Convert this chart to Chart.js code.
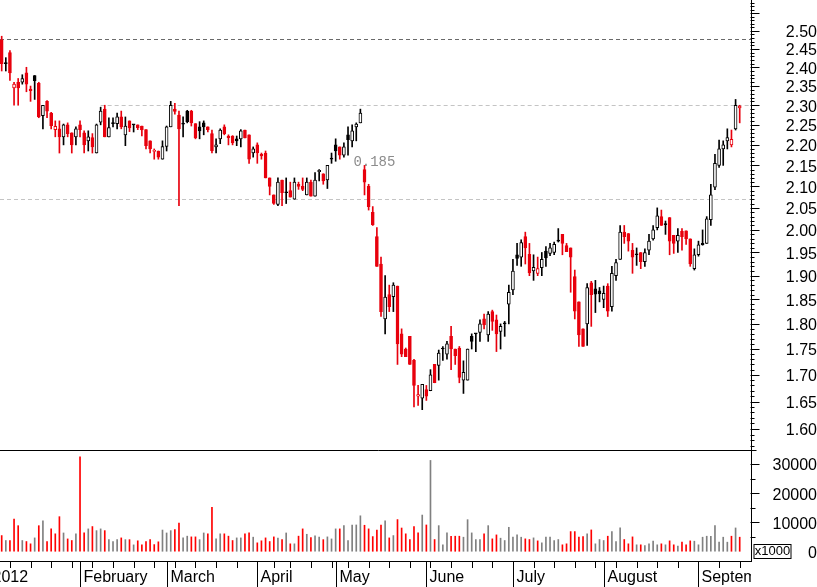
<!DOCTYPE html>
<html>
<head>
<meta charset="utf-8">
<script src="https://cdn.jsdelivr.net/npm/chart.js@4.4.0/dist/chart.umd.min.js"></script>
<style>
  html, body { margin: 0; padding: 0; background: #fff; }
  canvas { display: block; }
</style>
</head>
<body>
<canvas id="chart" width="817" height="587"></canvas>
<script>
// daily candles, 5 Jan 2012 .. 17 Sep 2012 (one entry per trading day)
const open = [
  2.475, 2.41, 2.44, 2.345, 2.36, 2.36, 2.385, 2.342, 2.378, 2.357,
  2.273, 2.31, 2.28, 2.238, 2.24, 2.22, 2.25, 2.23, 2.22, 2.25,
  2.23, 2.21, 2.218, 2.18, 2.257, 2.29, 2.22, 2.253, 2.253, 2.27,
  2.225, 2.26, 2.25, 2.25, 2.247, 2.238, 2.21, 2.184, 2.185, 2.165,
  2.196, 2.245, 2.29, 2.275, 2.252, 2.285, 2.285, 2.253, 2.245, 2.255,
  2.245, 2.228, 2.195, 2.215, 2.245, 2.222, 2.222, 2.215, 2.215, 2.237,
  2.225, 2.18, 2.20, 2.177, 2.18, 2.12, 2.08, 2.058, 2.115, 2.085,
  2.09, 2.07, 2.105, 2.10, 2.08, 2.11, 2.077, 2.135, 2.13, 2.115,
  2.165, 2.20, 2.195, 2.175, 2.225, 2.21, 2.245, 2.255, 2.14, 2.10,
  2.04, 1.985, 1.925, 1.81, 1.86, 1.856, 1.878, 1.78, 1.75, 1.775,
  1.728, 1.66, 1.656, 1.672, 1.67, 1.72, 1.718, 1.75, 1.74, 1.775,
  1.75, 1.752, 1.69, 1.69, 1.775, 1.78, 1.783, 1.81, 1.778, 1.825,
  1.808, 1.785, 1.80, 1.84, 1.87, 1.945, 1.94, 1.985, 1.946, 1.91,
  1.905, 1.917, 1.953, 1.948, 1.95, 1.975, 1.99, 1.965, 1.96, 1.898,
  1.845, 1.79, 1.80, 1.885, 1.872, 1.868, 1.85, 1.878, 1.835, 1.90,
  1.935, 1.995, 1.992, 1.955, 1.945, 1.95, 1.93, 1.955, 1.98, 2.005,
  2.03, 2.012, 2.028, 1.988, 1.975, 1.997, 1.998, 1.98, 1.915, 1.945,
  1.97, 1.97, 2.023, 2.098, 2.15, 2.19, 2.21, 2.20, 2.24, 2.293
];
const high = [
  2.485, 2.426, 2.445, 2.36, 2.37, 2.38, 2.40, 2.35, 2.378, 2.36,
  2.30, 2.312, 2.282, 2.26, 2.26, 2.252, 2.255, 2.23, 2.245, 2.26,
  2.235, 2.235, 2.228, 2.252, 2.295, 2.30, 2.268, 2.268, 2.28, 2.285,
  2.27, 2.26, 2.25, 2.25, 2.247, 2.238, 2.21, 2.19, 2.185, 2.21,
  2.247, 2.31, 2.305, 2.285, 2.27, 2.287, 2.287, 2.253, 2.258, 2.26,
  2.245, 2.237, 2.215, 2.24, 2.25, 2.225, 2.223, 2.222, 2.238, 2.237,
  2.225, 2.195, 2.205, 2.18, 2.185, 2.12, 2.08, 2.12, 2.115, 2.12,
  2.11, 2.12, 2.11, 2.12, 2.12, 2.115, 2.133, 2.14, 2.13, 2.15,
  2.18, 2.215, 2.195, 2.205, 2.245, 2.25, 2.255, 2.29, 2.15, 2.105,
  2.053, 2.005, 1.94, 1.90, 1.88, 1.885, 1.878, 1.79, 1.752, 1.775,
  1.73, 1.68, 1.682, 1.68, 1.71, 1.72, 1.748, 1.755, 1.765, 1.795,
  1.75, 1.755, 1.727, 1.75, 1.78, 1.78, 1.808, 1.82, 1.825, 1.828,
  1.818, 1.80, 1.805, 1.88, 1.935, 1.97, 1.978, 1.995, 1.97, 1.945,
  1.94, 1.95, 1.963, 1.97, 1.973, 2.003, 1.99, 1.97, 1.96, 1.912,
  1.845, 1.79, 1.883, 1.888, 1.89, 1.875, 1.878, 1.883, 1.92, 1.935,
  2.01, 2.01, 1.992, 1.97, 1.96, 1.95, 1.958, 1.99, 2.01, 2.05,
  2.045, 2.02, 2.028, 1.988, 2.003, 2.003, 1.998, 1.98, 1.958, 1.975,
  2.0, 2.03, 2.105, 2.177, 2.212, 2.21, 2.24, 2.237, 2.315, 2.30
];
const low = [
  2.39, 2.39, 2.365, 2.30, 2.30, 2.355, 2.335, 2.31, 2.315, 2.268,
  2.24, 2.268, 2.24, 2.22, 2.18, 2.20, 2.22, 2.18, 2.20, 2.22,
  2.18, 2.185, 2.18, 2.18, 2.25, 2.22, 2.22, 2.245, 2.24, 2.24,
  2.198, 2.233, 2.232, 2.238, 2.222, 2.19, 2.18, 2.165, 2.165, 2.165,
  2.185, 2.245, 2.277, 2.055, 2.22, 2.255, 2.247, 2.215, 2.215, 2.225,
  2.232, 2.18, 2.18, 2.203, 2.225, 2.20, 2.20, 2.198, 2.195, 2.217,
  2.155, 2.17, 2.155, 2.165, 2.12, 2.08, 2.058, 2.055, 2.055, 2.06,
  2.075, 2.07, 2.093, 2.09, 2.08, 2.077, 2.077, 2.113, 2.105, 2.095,
  2.155, 2.16, 2.165, 2.17, 2.175, 2.195, 2.21, 2.255, 2.08, 2.045,
  2.01, 1.92, 1.815, 1.78, 1.825, 1.825, 1.72, 1.735, 1.735, 1.72,
  1.64, 1.643, 1.635, 1.652, 1.67, 1.685, 1.69, 1.728, 1.73, 1.71,
  1.72, 1.685, 1.665, 1.69, 1.75, 1.745, 1.765, 1.79, 1.765, 1.787,
  1.745, 1.75, 1.775, 1.80, 1.86, 1.922, 1.92, 1.925, 1.90, 1.89,
  1.90, 1.90, 1.92, 1.943, 1.945, 1.973, 1.945, 1.952, 1.865, 1.81,
  1.755, 1.755, 1.757, 1.795, 1.823, 1.845, 1.833, 1.815, 1.826, 1.89,
  1.935, 1.97, 1.953, 1.905, 1.922, 1.915, 1.92, 1.945, 1.977, 2.0,
  2.01, 1.99, 1.945, 1.948, 1.95, 1.955, 1.968, 1.92, 1.912, 1.942,
  1.966, 1.97, 2.01, 2.092, 2.145, 2.15, 2.19, 2.195, 2.237, 2.255
];
const close = [
  2.41, 2.41, 2.385, 2.355, 2.345, 2.37, 2.355, 2.338, 2.364, 2.27,
  2.30, 2.285, 2.248, 2.246, 2.22, 2.25, 2.228, 2.20, 2.24, 2.238,
  2.20, 2.22, 2.195, 2.25, 2.285, 2.22, 2.243, 2.253, 2.27, 2.245,
  2.247, 2.242, 2.25, 2.243, 2.237, 2.198, 2.19, 2.186, 2.17, 2.196,
  2.245, 2.30, 2.284, 2.24, 2.252, 2.258, 2.255, 2.217, 2.235, 2.245,
  2.238, 2.186, 2.20, 2.237, 2.228, 2.218, 2.205, 2.21, 2.235, 2.217,
  2.165, 2.19, 2.18, 2.173, 2.12, 2.10, 2.06, 2.11, 2.085, 2.085,
  2.075, 2.11, 2.10, 2.093, 2.11, 2.077, 2.115, 2.138, 2.113, 2.15,
  2.165, 2.185, 2.175, 2.195, 2.213, 2.235, 2.252, 2.28, 2.11, 2.053,
  2.012, 1.92, 1.825, 1.855, 1.835, 1.88, 1.76, 1.74, 1.735, 1.72,
  1.68, 1.663, 1.682, 1.66, 1.70, 1.685, 1.742, 1.75, 1.76, 1.75,
  1.737, 1.695, 1.705, 1.75, 1.765, 1.78, 1.80, 1.798, 1.82, 1.805,
  1.78, 1.795, 1.80, 1.865, 1.91, 1.937, 1.972, 1.96, 1.906, 1.918,
  1.915, 1.935, 1.938, 1.96, 1.968, 1.975, 1.97, 1.952, 1.94, 1.826,
  1.778, 1.755, 1.875, 1.86, 1.861, 1.862, 1.863, 1.826, 1.905, 1.928,
  1.995, 1.985, 1.975, 1.94, 1.945, 1.93, 1.95, 1.975, 2.0, 2.032,
  2.01, 2.012, 1.975, 1.97, 1.988, 1.985, 1.98, 1.925, 1.945, 1.967,
  1.967, 2.025, 2.08, 2.155, 2.19, 2.2, 2.218, 2.214, 2.30, 2.298
];
// volume in shares (axis shows x1000)
const volume = [
  5400, 3700, 3700, 11100, 8800, 3700, 3350, 2560, 4600, 8800,
  10500, 3350, 7700, 6000, 11900, 6300, 4250, 3700, 6000, 32500,
  6300, 7700, 8500, 7100, 7700, 7100, 4000, 3350, 4000, 4600,
  4000, 4000, 2200, 3600, 2200, 3350, 4000, 2300, 3250, 7300,
  6300, 7100, 7450, 9700, 4600, 5200, 4950, 4950, 4000, 6300,
  6000, 15100, 4250, 6000, 6000, 5200, 3700, 4600, 4600, 6000,
  6300, 4850, 2900, 3600, 4600, 3350, 4950, 4500, 4000, 6300,
  2560, 2560, 5200, 7700, 5850, 4700, 5300, 4850, 4000, 4950,
  4250, 7700, 7700, 8800, 3700, 9050, 9050, 12200, 8950, 7700,
  5050, 7300, 9050, 10500, 4600, 5400, 10900, 8000, 6000, 4000,
  8480, 6320, 12460, 9050, 31240, 4040, 8820, 2220, 6320, 5180,
  5180, 5180, 4840, 10870, 6320, 4040, 4040, 5970, 8820, 4270,
  5630, 4500, 3700, 8250, 4840, 5630, 4840, 4270, 4040, 4610,
  3580, 2900, 4840, 4840, 3700, 4040, 2220, 2560, 6770, 6770,
  4840, 5060, 5970, 7340, 2560, 4040, 3700, 5180, 6770, 3360,
  8020, 4040, 2560, 4950, 2220, 2220, 1990, 2560, 3470, 2220,
  2560, 2220, 3580, 2220, 1760, 3130, 2220, 3580, 3470, 2220,
  4840, 5180, 5180, 8820, 3130, 4840, 3130, 5180, 8020, 4840
];

// x axis: first trading day of each month / of each week (index into the arrays)
const monthLabels = ['2012', 'February', 'March', 'April', 'May', 'June', 'July', 'August', 'September'];
const monthStarts = [-3, 19, 40, 62, 81, 103, 124, 146, 169];
const weekStarts = [2, 7, 12, 17, 22, 27, 32, 37, 42, 47, 52, 57, 62, 66, 70, 75, 80, 84, 89, 94,
                    99, 104, 109, 114, 119, 124, 129, 134, 139, 144, 149, 154, 159, 164, 169, 174, 179];

const priceTicks = [1.60, 1.65, 1.70, 1.75, 1.80, 1.85, 1.90, 1.95, 2.00, 2.05, 2.10,
                    2.15, 2.20, 2.25, 2.30, 2.35, 2.40, 2.45, 2.50];
const volumeTicks = [0, 10000, 20000, 30000];

// horizontal reference lines and the gap note
const refLevels = [2.477, 2.30, 2.07];
const refStart = [-1, 24, -1];
const gapNote = { text: '0.185', index: 85.3, price: 2.158 };

const RED = '#e8000d';
const FONT = "'Liberation Sans', Arial, sans-serif";

const isDown = close.map((c, i) => i === 0 ? c < open[i] : c < close[i - 1]);
const lineColor = isDown.map(d => d ? RED : '#000000');
const bodyColor = close.map((c, i) => c > open[i] ? '#ffffff' : lineColor[i]);
const volColor = isDown.map(d => d ? '#ff0000' : '#808080');

Chart.defaults.font.family = FONT;
Chart.defaults.font.size = 16;
Chart.defaults.color = '#000';

const decor = {
  id: 'decor',
  beforeDatasetsDraw(chart) {
    const {ctx, chartArea: a, scales: {x, y}} = chart;
    ctx.save();
    ctx.lineWidth = 1;
    ctx.setLineDash([4, 3]);
    refLevels.forEach((v, k) => {
      const py = Math.round(y.getPixelForValue(v)) + 0.5;
      const x0 = Math.max(a.left, x.getPixelForValue(refStart[k]));
      ctx.strokeStyle = k === 0 ? '#6a6a6a' : '#c4c4c4';
      ctx.beginPath();
      ctx.moveTo(x0, py);
      ctx.lineTo(a.right, py);
      ctx.stroke();
    });
    ctx.setLineDash([]);
    ctx.fillStyle = '#8c8c8c';
    ctx.font = "14px 'Liberation Mono', monospace";
    ctx.textAlign = 'left';
    ctx.textBaseline = 'middle';
    ctx.fillText(gapNote.text, x.getPixelForValue(gapNote.index), y.getPixelForValue(gapNote.price));
    ctx.restore();
  },
  afterDraw(chart) {
    const {ctx, chartArea: a, scales: {x, y, yVol}} = chart;
    const H = chart.height;
    ctx.save();
    ctx.strokeStyle = '#000';
    ctx.lineWidth = 1;
    const hLine = (x0, x1, py) => {
      py = Math.round(py) + 0.5;
      ctx.beginPath(); ctx.moveTo(x0, py); ctx.lineTo(x1, py); ctx.stroke();
    };
    const rx = Math.round(a.right) - 0.5;
    // panel separator
    hLine(a.left, rx + 6, y.bottom);
    // price axis ticks every 0.01, longer every 0.05
    for (let c = 157; c <= 258; c++) {
      const py = y.getPixelForValue(c / 100);
      if (py < y.top || py > y.bottom - 1) continue;
      hLine(rx, rx + (c % 5 === 0 ? 9 : 4), py);
    }
    // volume axis ticks
    for (let v = 5000; v <= 30000; v += 5000) {
      hLine(rx, rx + (v % 10000 === 0 ? 9 : 5), yVol.getPixelForValue(v));
    }
    // x1000 box
    const z = Math.round(yVol.getPixelForValue(0));
    ctx.fillStyle = '#fff';
    ctx.fillRect(rx + 3, z - 7, 37, 14);
    ctx.strokeRect(rx + 3.5, z - 6.5, 37, 14);
    ctx.fillStyle = '#000';
    ctx.font = '13px ' + FONT;
    ctx.textAlign = 'center';
    ctx.textBaseline = 'middle';
    ctx.fillText('x1000', rx + 22, z + 0.5);
    // x axis: week ticks, month separators and names
    const b = Math.round(a.bottom);
    ctx.beginPath();
    ctx.rect(a.left, b, a.right - a.left, H - b);
    ctx.clip();
    weekStarts.forEach(i => {
      const px = Math.round(x.getPixelForValue(i)) + 0.5;
      ctx.beginPath(); ctx.moveTo(px, b); ctx.lineTo(px, b + 7); ctx.stroke();
    });
    ctx.font = '16px ' + FONT;
    ctx.textAlign = 'left';
    ctx.textBaseline = 'alphabetic';
    monthStarts.forEach((i, k) => {
      const px = Math.round(x.getPixelForValue(i)) + 0.5;
      ctx.beginPath(); ctx.moveTo(px, b); ctx.lineTo(px, H); ctx.stroke();
      ctx.fillText(monthLabels[k], px + 3, b + 21);
    });
    ctx.restore();
  }
};

function fixWidth(w) {
  return s => { s.width = w; s.paddingTop = 0; s.paddingBottom = 0; };
}

// labels sit a couple of pixels below their tick: an empty first line with a 4px line height
const axisFont = { size: 16, lineHeight: '4px' };

new Chart(document.getElementById('chart'), {
  type: 'bar',
  data: {
    datasets: [
      {
        label: 'body',
        yAxisID: 'y',
        data: open.map((o, i) => ({ x: i, y: [Math.min(o, close[i]), Math.max(o, close[i])] })),
        backgroundColor: bodyColor,
        borderColor: lineColor,
        borderWidth: 1,
        borderSkipped: false,
        barThickness: 3,
        minBarLength: 1,
        grouped: false,
        order: 0
      },
      {
        label: 'range',
        yAxisID: 'y',
        data: high.map((h, i) => ({ x: i, y: [low[i], h] })),
        backgroundColor: lineColor,
        borderWidth: 0,
        barThickness: 1,
        grouped: false,
        order: 1
      },
      {
        label: 'volume',
        yAxisID: 'yVol',
        data: volume.map((v, i) => ({ x: i, y: v })),
        backgroundColor: volColor,
        borderWidth: 0,
        barThickness: 1,
        grouped: false,
        order: 2
      }
    ]
  },
  options: {
    responsive: false,
    animation: false,
    events: [],
    devicePixelRatio: 1,
    layout: { padding: 0 },
    plugins: { legend: { display: false }, tooltip: { enabled: false } },
    scales: {
      x: {
        type: 'linear',
        offset: false,
        min: -0.41,
        max: 181.74,
        grid: { display: false, drawTicks: false, offset: false },
        ticks: { display: false },
        border: { display: true, color: '#000' },
        afterFit: s => { s.height = 26; s.paddingLeft = 0; s.paddingRight = 0; }
      },
      y: {
        type: 'logarithmic',
        position: 'right',
        stack: 'panes',
        stackWeight: 450,
        min: 1.5627,
        max: 2.588,
        grid: { display: false, drawTicks: false },
        border: { display: true, color: '#000' },
        afterBuildTicks: s => { s.ticks = priceTicks.map(v => ({ value: v })); },
        afterFit: fixWidth(66),
        ticks: {
          autoSkip: false,
          crossAlign: 'far',
          padding: 27,
          color: '#000',
          font: axisFont,
          callback: v => ['', Number(v).toFixed(2)]
        }
      },
      yVol: {
        type: 'linear',
        position: 'right',
        stack: 'panes',
        stackWeight: 111,
        min: -3345,
        max: 34828,
        grid: { display: false, drawTicks: false },
        border: { display: true, color: '#000' },
        afterBuildTicks: s => { s.ticks = volumeTicks.map(v => ({ value: v })); },
        afterFit: fixWidth(66),
        ticks: {
          autoSkip: false,
          crossAlign: 'far',
          padding: 15,
          color: '#000',
          font: axisFont,
          callback: v => ['', String(v)]
        }
      }
    }
  },
  plugins: [decor]
});
</script>
</body>
</html>
